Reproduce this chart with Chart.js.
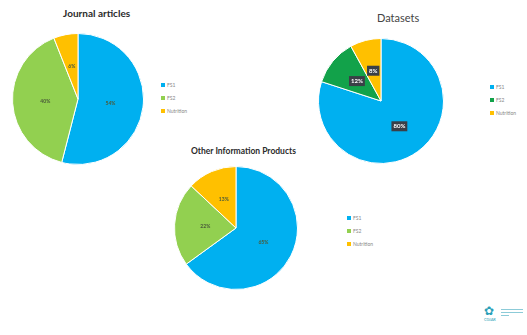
<!DOCTYPE html>
<html>
<head>
<meta charset="utf-8">
<script src="https://cdn.jsdelivr.net/npm/chart.js@4"></script>
<style>
  body { margin: 0; background: #fff; font-family: Lato, "Open Sans", sans-serif; }
  #page { position: relative; width: 527px; height: 335px; overflow: hidden; }
  .box { position: absolute; }
  .title { position: absolute; white-space: nowrap; color: #2b2b2b; }
  .legend { position: absolute; font-size: 5px; color: #888; line-height: 13px; }
  .legend span.sw { display: inline-block; width: 4px; height: 4px; margin-right: 2px; }
  .logo { position: absolute; left: 484px; top: 305px; color: #2a9fb8; }
  .logo .icon { font-size: 12px; line-height: 12px; }
  .logo .name { font-size: 4px; line-height: 5px; }
  .logo .bar { position: absolute; left: 17px; height: 1px; background: #8ccbd8; }
</style>
</head>
<body>
<div id="page">
  <div class="title" style="left:63px;top:7px;font-size:10px;font-weight:bold;">Journal articles</div>
  <div class="box" style="left:12px;top:33px;width:132px;height:132px;"><canvas id="journalChart"></canvas></div>
  <div class="legend" id="journalLegend" style="left:161px;top:79px;"></div>

  <div class="title" style="left:377px;top:11px;font-size:11px;color:#444;">Datasets</div>
  <div class="box" style="left:318px;top:38px;width:126px;height:126px;"><canvas id="datasetChart"></canvas></div>
  <div class="legend" id="datasetLegend" style="left:490px;top:81px;"></div>

  <div class="title" style="left:191px;top:146px;font-size:8.5px;font-weight:bold;">Other Information Products</div>
  <div class="box" style="left:174px;top:166px;width:124px;height:124px;"><canvas id="otherChart"></canvas></div>
  <div class="legend" id="otherLegend" style="left:347px;top:212px;"></div>

  <div class="logo">
    <div class="icon">&#10047;</div>
    <div class="name">CGIAR</div>
    <div class="bar" style="top:4px;width:22px;"></div>
    <div class="bar" style="top:7px;width:22px;"></div>
    <div class="bar" style="top:10px;width:8px;"></div>
  </div>
</div>
<script>
const categories = ["FS1", "FS2", "Nutrition"];
const journalValues = [54, 40, 6];
const datasetValues = [80, 12, 8];
const otherValues = [65, 22, 13];

const lightColors = ["#00B0F0", "#92D050", "#FFC000"];
const darkColors = ["#00B0F0", "#12A24A", "#FFC000"];

// percent labels drawn at each slice centroid
const sliceLabels = {
    id: "sliceLabels",
    afterDatasetsDraw(chart, args, opts) {
        const ctx = chart.ctx;
        const meta = chart.getDatasetMeta(0);
        const data = chart.data.datasets[0].data;
        ctx.save();
        ctx.font = "bold " + opts.size + "px Lato, sans-serif";
        ctx.textAlign = "center";
        ctx.textBaseline = "middle";
        meta.data.forEach((arc, i) => {
            const p = arc.tooltipPosition();
            const text = data[i] + "%";
            if (opts.boxed) {
                const w = ctx.measureText(text).width + 4;
                ctx.fillStyle = "#3a3f47";
                ctx.fillRect(p.x - w / 2, p.y - 5, w, 10);
                ctx.fillStyle = "#fff";
            } else {
                ctx.fillStyle = "#4a5a3a";
            }
            ctx.fillText(text, p.x, p.y);
        });
        ctx.restore();
    }
};

function makePie(id, values, colors, labelOpts) {
    new Chart(document.getElementById(id), {
        type: "pie",
        data: {
            labels: categories,
            datasets: [{
                data: values,
                backgroundColor: colors,
                borderColor: "#fff",
                borderWidth: 1
            }]
        },
        options: {
            responsive: true,
            maintainAspectRatio: false,
            animation: false,
            layout: { padding: 0 },
            plugins: {
                legend: { display: false },
                tooltip: { enabled: false },
                sliceLabels: labelOpts
            }
        },
        plugins: [sliceLabels]
    });
}

function makeLegend(id, colors) {
    const el = document.getElementById(id);
    categories.forEach((c, i) => {
        const row = document.createElement("div");
        row.innerHTML = '<span class="sw" style="background:' + colors[i] + '"></span>' + c;
        el.appendChild(row);
    });
}

makePie("journalChart", journalValues, lightColors, { size: 5, boxed: false });
makePie("datasetChart", datasetValues, darkColors, { size: 6, boxed: true });
makePie("otherChart", otherValues, lightColors, { size: 5, boxed: false });

makeLegend("journalLegend", lightColors);
makeLegend("datasetLegend", darkColors);
makeLegend("otherLegend", lightColors);
</script>
</body>
</html>
